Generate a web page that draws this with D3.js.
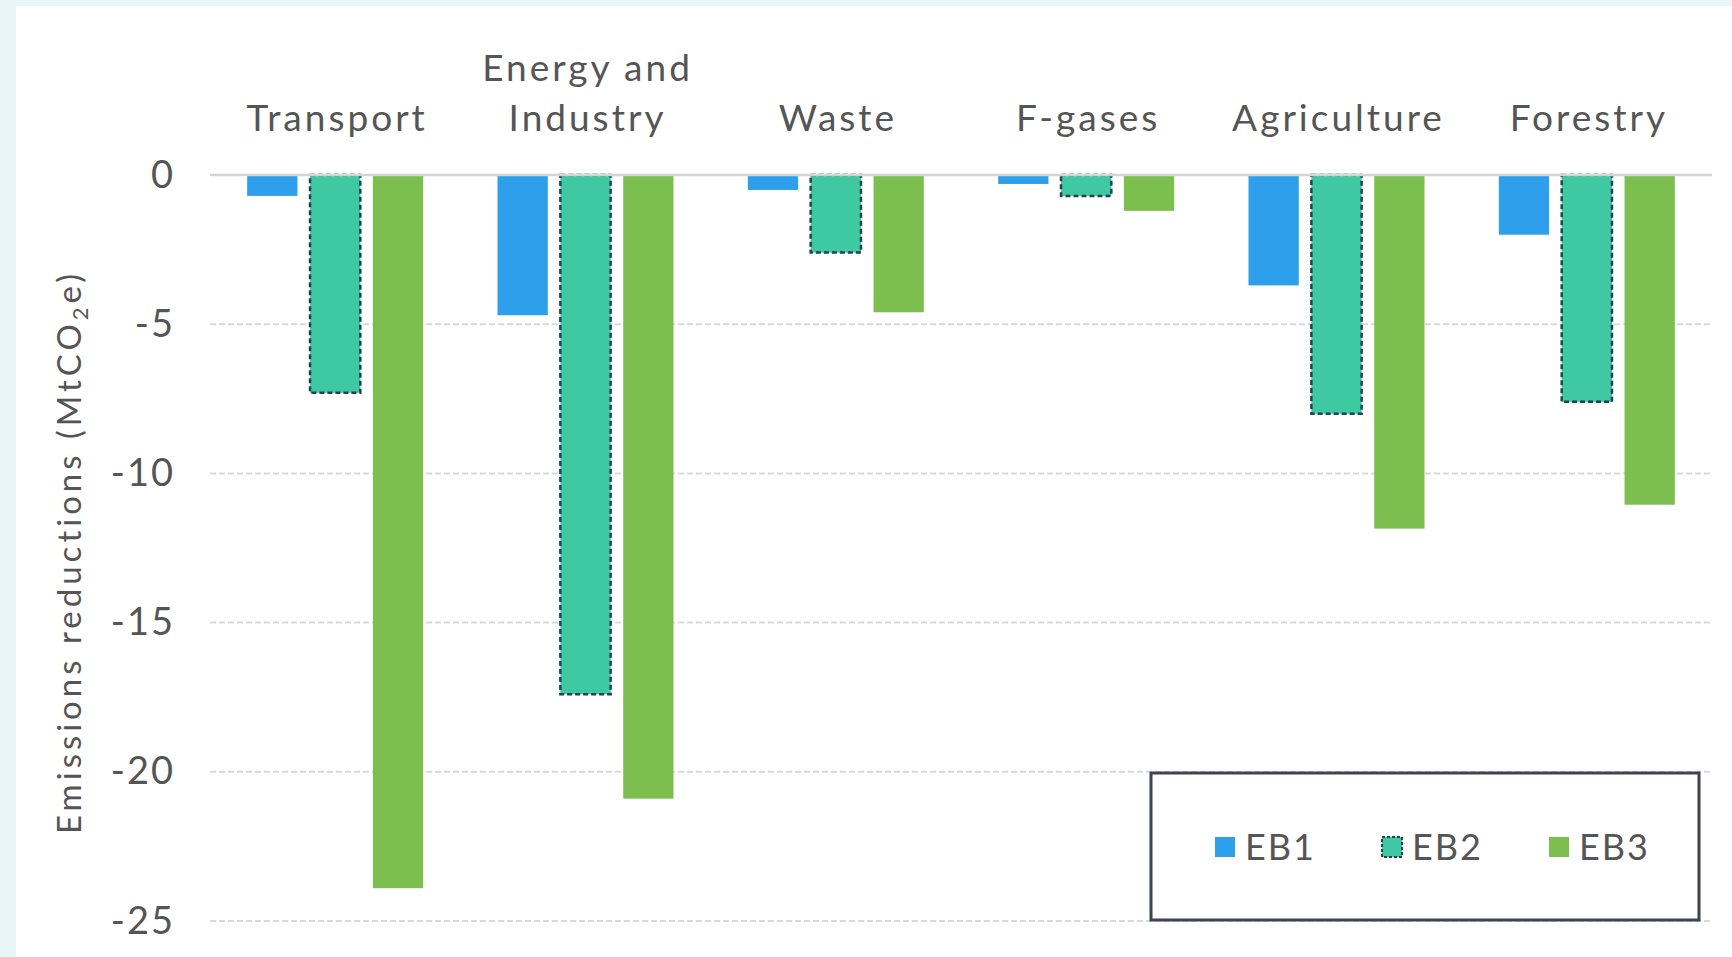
<!DOCTYPE html>
<html>
<head>
<meta charset="utf-8">
<script src="https://cdn.jsdelivr.net/npm/d3@7"></script>
<style>
  body { margin: 0; background: #e9f6f8; }
</style>
</head>
<body>
<div id="chart"></div>
<script>
// data
var sectors = [["Transport"], ["Energy and", "Industry"], ["Waste"], ["F-gases"], ["Agriculture"], ["Forestry"]];
var series = ["EB1", "EB2", "EB3"];
var eb1 = [-0.7, -4.7, -0.5, -0.3, -3.7, -2.0];
var eb2 = [-7.3, -17.4, -2.6, -0.7, -8.0, -7.6];
var eb3 = [-23.9, -20.9, -4.6, -1.2, -11.85, -11.05];
var yTicks = [0, -5, -10, -15, -20, -25];

var W = 1732, H = 957;
var margin = { top: 175, right: 20, bottom: 36, left: 210 },
    width = W - margin.left - margin.right,
    height = H - margin.top - margin.bottom;

var font = 'Lato, "Open Sans", sans-serif';
var colors = { EB1: "#2e9fea", EB2: "#3fc9a2", EB3: "#7cbf4f" };

var svg = d3.select("#chart").append("svg")
    .attr("width", W).attr("height", H);

// white panel
svg.append("rect")
    .attr("x", 16).attr("y", 6)
    .attr("width", W - 16).attr("height", H - 6)
    .attr("fill", "#ffffff");

var g = svg.append("g")
    .attr("transform", "translate(" + margin.left + "," + margin.top + ")");

var x = d3.scaleBand().domain(d3.range(sectors.length)).range([0, width]).padding(0);
var x1 = d3.scaleBand().domain(series).range([x.bandwidth() / 2 - 88, x.bandwidth() / 2 + 88]).paddingInner(0.2);
var y = d3.scaleLinear().domain([0, -25]).range([0, 746]);

// gridlines
g.selectAll(".grid").data(yTicks.filter(function(d) { return d != 0; }))
  .enter().append("line")
    .attr("class", "grid")
    .attr("x1", 0).attr("x2", width)
    .attr("y1", function(d) { return y(d); })
    .attr("y2", function(d) { return y(d); })
    .attr("stroke", "#d9d9d9")
    .attr("stroke-width", 2)
    .attr("stroke-dasharray", "6,3");

// y axis labels
var yAxis = g.append("g")
    .call(d3.axisLeft(y).tickValues(yTicks).tickSize(0).tickPadding(35)
      .tickFormat(function(d) { return String(d); }));
yAxis.select(".domain").remove();
yAxis.selectAll("text")
    .style("font-family", font)
    .style("font-size", "38px")
    .style("letter-spacing", "2px")
    .attr("fill", "#555555");

// bars
var rows = sectors.map(function(s, i) {
  return { i: i, vals: [eb1[i], eb2[i], eb3[i]] };
});

var groups = g.selectAll(".grp").data(rows).enter().append("g")
    .attr("class", "grp")
    .attr("transform", function(d) { return "translate(" + x(d.i) + ",0)"; });

groups.selectAll("rect")
  .data(function(d) { return series.map(function(k, j) { return { key: k, v: d.vals[j] }; }); })
  .enter().append("rect")
    .attr("x", function(d) { return x1(d.key); })
    .attr("y", y(0))
    .attr("width", x1.bandwidth())
    .attr("height", function(d) { return y(d.v) - y(0); })
    .attr("fill", function(d) { return colors[d.key]; })
    .attr("stroke", function(d) { return d.key == "EB2" ? "#1e4352" : "none"; })
    .attr("stroke-width", 2.5)
    .attr("stroke-dasharray", "5,3");

// zero line
g.append("line")
    .attr("x1", 0).attr("x2", width)
    .attr("y1", y(0)).attr("y2", y(0))
    .attr("stroke", "#d4d4d4")
    .attr("stroke-width", 2.5);

// category labels
var cat = g.selectAll(".cat").data(sectors).enter().append("text")
    .attr("class", "cat")
    .attr("x", function(d, i) { return x(i) + x.bandwidth() / 2 + 2; })
    .attr("y", function(d) { return -44 - (d.length - 1) * 50; })
    .attr("text-anchor", "middle")
    .style("font-family", font)
    .style("font-size", "37px")
    .style("letter-spacing", "3px")
    .attr("fill", "#555555");
cat.selectAll("tspan").data(function(d) { return d; }).enter().append("tspan")
    .attr("x", function() { return this.parentNode.getAttribute("x"); })
    .attr("dy", function(d, i) { return i == 0 ? 0 : 50; })
    .text(function(d) { return d; });

// y label
var yl = svg.append("text")
    .attr("transform", "translate(81," + 552 + ") rotate(-90)")
    .attr("text-anchor", "middle")
    .style("font-family", font)
    .style("font-size", "33px")
    .style("letter-spacing", "4px")
    .attr("fill", "#555555");
yl.append("tspan").text("Emissions reductions (MtCO");
yl.append("tspan").attr("dy", 7).style("font-size", "22px").text("2");
yl.append("tspan").attr("dy", -7).text("e)");

// legend
var legend = svg.append("g").attr("transform", "translate(1151,773)");
legend.append("rect")
    .attr("width", 548).attr("height", 147)
    .attr("fill", "#ffffff")
    .attr("stroke", "#3d4350")
    .attr("stroke-width", 3);

var lx = d3.scalePoint().domain(series).range([64, 398]);
var item = legend.selectAll(".li").data(series).enter().append("g")
    .attr("class", "li")
    .attr("transform", function(d) { return "translate(" + lx(d) + ",74)"; });
item.append("rect")
    .attr("x", 0).attr("y", -10)
    .attr("width", 20).attr("height", 20)
    .attr("fill", function(d) { return colors[d]; })
    .attr("stroke", function(d) { return d == "EB2" ? "#1e4352" : "none"; })
    .attr("stroke-width", 2)
    .attr("stroke-dasharray", "3,2");
item.append("text")
    .attr("x", 30).attr("dy", "0.36em")
    .style("font-family", font)
    .style("font-size", "36px")
    .style("letter-spacing", "2px")
    .attr("fill", "#555555")
    .text(function(d) { return d; });
</script>
</body>
</html>
